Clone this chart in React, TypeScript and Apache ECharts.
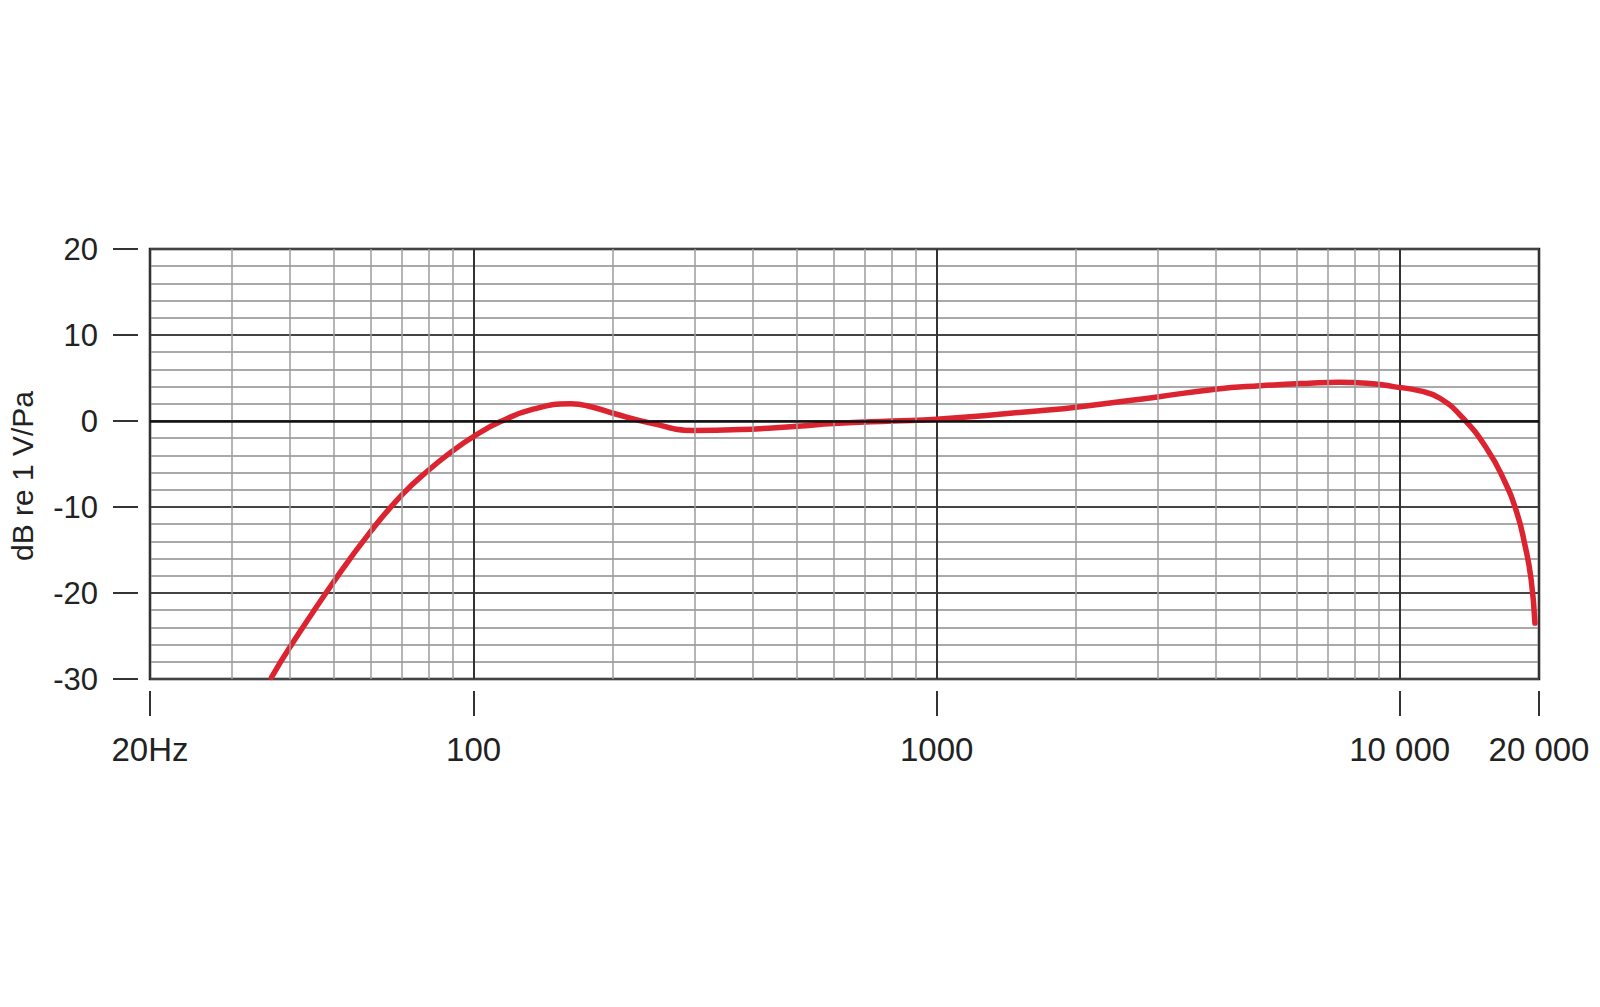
import React, { useEffect, useRef } from 'react';
import * as echarts from 'echarts';

// response curve (Hz, dB re 1 V/Pa)
const freqs = [
  36.6, 40, 50, 60, 70, 80, 90, 100, 114, 135, 162, 181, 200, 244, 298, 376, 500, 600, 800,
  1000, 1670, 2000, 3000, 4000, 5000, 6400, 7400, 8500, 9700, 11070, 12220, 13720, 15420, 16750,
  17900, 18660, 19230, 19600,
];
const levels = [
  -29.8, -26.4, -18.6, -12.8, -8.6, -5.7, -3.5, -1.8, -0.1, 1.4, 2.0, 1.6, 0.9, -0.3, -1.1,
  -1.0, -0.6, -0.3, 0.0, 0.2, 1.2, 1.6, 2.8, 3.7, 4.1, 4.4, 4.5, 4.4, 4.0, 3.5, 2.65, 0.3, -3.2,
  -6.7, -10.6, -14.5, -18.4, -23.5,
];

const tickFreqs = [20, 100, 1000, 10000, 20000];
const tickLabels = ['20Hz', '100', '1000', '10 000', '20 000'];
const minorFreqs = [
  30, 40, 50, 60, 70, 80, 90, 200, 300, 400, 500, 600, 700, 800, 900, 2000, 3000, 4000, 5000,
  6000, 7000, 8000, 9000,
];

const FONT = '"Liberation Sans", Arial, Helvetica, sans-serif';

export default function App() {
  const chartRef = useRef<HTMLDivElement>(null);

  useEffect(() => {
    if (!chartRef.current) return;
    const chart = echarts.init(chartRef.current, null, { renderer: 'svg' });

    const option = {
      animation: false,
      backgroundColor: '#ffffff',
      grid: {
        left: 150,
        right: 61,
        top: 249,
        bottom: 328,
        show: true,
        borderColor: '#111',
        borderWidth: 2.5,
        outerBoundsMode: 'none',
      },
      graphic: [
        {
          type: 'text',
          x: 22,
          y: 476,
          rotation: Math.PI / 2,
          style: {
            text: 'dB re 1 V/Pa',
            fontSize: 30,
            fontFamily: FONT,
            fill: '#222',
            align: 'center',
            verticalAlign: 'middle',
          },
        },
      ],
      xAxis: {
        type: 'log',
        logBase: 10,
        min: 20,
        max: 20000,
        offset: 12,
        axisLine: { show: true, onZero: false, lineStyle: { color: 'rgba(0,0,0,0)' } },
        axisTick: { show: true, inside: false, length: 25, lineStyle: { color: '#333', width: 2 } },
        axisLabel: {
          margin: 42,
          fontSize: 33,
          fontFamily: FONT,
          color: '#222',
          showMinLabel: true,
          showMaxLabel: true,
          alignMinLabel: 'center',
          alignMaxLabel: 'center',
          formatter: (v: number) => {
            const i = tickFreqs.indexOf(Math.round(v));
            return i >= 0 ? tickLabels[i] : '';
          },
        },
        splitLine: { show: true, lineStyle: { color: '#333', width: 2 } },
      },
      yAxis: {
        type: 'value',
        min: -30,
        max: 20,
        interval: 10,
        offset: 12,
        axisLine: { show: false },
        axisTick: { show: true, length: 25, lineStyle: { color: '#333', width: 2 } },
        axisLabel: { margin: 40, fontSize: 31, fontFamily: FONT, color: '#222' },
        splitLine: { show: true, lineStyle: { color: '#444', width: 2 } },
        minorTick: { show: false, splitNumber: 5 },
        minorSplitLine: { show: true, lineStyle: { color: '#8c8c8c', width: 1.5 } },
      },
      series: [
        {
          // grid helper: minor log lines and the 0 dB line
          type: 'line',
          data: [],
          z: 1,
          silent: true,
          markLine: {
            silent: true,
            symbol: ['none', 'none'],
            label: { show: false },
            lineStyle: { color: '#9c9c9c', width: 1.5, type: 'solid' },
            data: [
              ...minorFreqs.map((f) => ({ xAxis: f })),
              { yAxis: 0, lineStyle: { color: '#111', width: 2.5, type: 'solid' } },
            ],
          },
        },
        {
          type: 'line',
          data: freqs.map((f, i) => [f, levels[i]]),
          smooth: 0.5,
          symbol: 'none',
          z: 3,
          lineStyle: { color: '#dc2430', width: 5.5, cap: 'round' },
        },
      ],
    };

    chart.setOption(option as any);

    return () => {
      chart.dispose();
    };
  }, []);

  return (
    <div
      ref={chartRef}
      style={{ position: 'fixed', left: 0, top: 0, width: '1600px', height: '1007px', background: '#fff' }}
    />
  );
}
